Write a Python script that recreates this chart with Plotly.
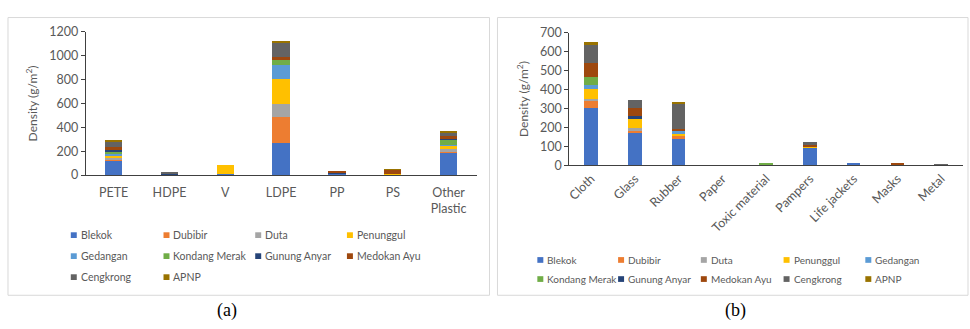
import plotly.graph_objects as go

sites = ["Blekok", "Dubibir", "Duta", "Penunggul", "Gedangan", "Kondang Merak",
         "Gunung Anyar", "Medokan Ayu", "Cengkrong", "APNP"]
colors = ["#4472C4", "#ED7D31", "#A5A5A5", "#FFC000", "#5B9BD5", "#70AD47",
          "#264478", "#9E480E", "#636363", "#997300"]

# (a) plastic types
plastic_cats = ["PETE", "HDPE", "V", "LDPE", "PP", "PS", "Other<br>Plastic"]
plastic_vals = {
    "Blekok":        [120, 8, 10, 272, 15, 0, 190],
    "Dubibir":       [15, 0, 0, 216, 0, 0, 5],
    "Duta":          [10, 0, 0, 105, 0, 0, 24],
    "Penunggul":     [20, 0, 75, 211, 0, 12, 31],
    "Gedangan":      [8, 0, 0, 119, 0, 0, 3],
    "Kondang Merak": [25, 0, 0, 47, 0, 0, 50],
    "Gunung Anyar":  [12, 5, 0, 3, 5, 0, 2],
    "Medokan Ayu":   [25, 0, 0, 16, 15, 33, 19],
    "Cengkrong":     [50, 7, 0, 126, 0, 0, 31],
    "APNP":          [5, 0, 0, 8, 0, 5, 8],
}

# (b) other waste types
other_cats = ["Cloth", "Glass", "Rubber", "Paper", "Toxic material", "Pampers",
              "Life jackets", "Masks", "Metal"]
other_vals = {
    "Blekok":        [305, 176, 141, 0, 0, 95, 14, 0, 0],
    "Dubibir":       [37, 5, 16, 0, 0, 0, 0, 10, 0],
    "Duta":          [10, 18, 0, 0, 0, 0, 0, 0, 0],
    "Penunggul":     [50, 47, 15, 0, 0, 10, 0, 0, 0],
    "Gedangan":      [20, 0, 7, 0, 0, 0, 0, 0, 0],
    "Kondang Merak": [42, 0, 0, 5, 15, 0, 0, 0, 0],
    "Gunung Anyar":  [0, 14, 0, 0, 0, 0, 0, 0, 0],
    "Medokan Ayu":   [77, 40, 12, 0, 0, 3, 0, 4, 0],
    "Cengkrong":     [101, 43, 137, 0, 0, 17, 0, 0, 8],
    "APNP":          [8, 0, 5, 0, 0, 0, 0, 0, 0],
}

W, H = 970, 329
def px(x): return x / W
def py(y): return 1 - y / H

font_fam = "Lato, 'Open Sans', sans-serif"
txt = "#595959"

fig = go.Figure()

# legend grid positions (swatch centre, px)
left_cols, left_rows = [71, 164, 256, 348], [238, 260, 282]
right_cols, right_rows = [539, 620, 703, 786, 868], [264, 284]

for panel, (cats, vals, cols, rows, xa, ya, fs) in enumerate([
        (plastic_cats, plastic_vals, left_cols, left_rows, "x", "y", 10.5),
        (other_cats, other_vals, right_cols, right_rows, "x2", "y2", 10)]):
    for i, (s, c) in enumerate(zip(sites, colors)):
        fig.add_trace(go.Bar(
            x=cats, y=vals[s], name=s, marker_color=c, marker_line_width=0,
            xaxis=xa, yaxis=ya, showlegend=False))
        # legend entry: small square swatch + series name
        cx, cy = cols[i % len(cols)], rows[i // len(cols)]
        fig.add_shape(type="rect", xref="paper", yref="paper",
                      x0=px(cx - 3), x1=px(cx + 3), y0=py(cy + 3), y1=py(cy - 3),
                      line_width=0, fillcolor=c)
        fig.add_annotation(text=s, xref="paper", yref="paper",
                           x=px(cx + 5), y=py(cy), xanchor="left", yanchor="middle",
                           showarrow=False,
                           font=dict(family=font_fam, size=fs, color=txt))

axis_common = dict(showgrid=False, zeroline=False, showline=True,
                   linecolor="#404040", linewidth=1.2,
                   tickfont=dict(family=font_fam, size=12.5, color=txt))

layout = dict(
    width=W, height=H, margin=dict(l=0, r=0, t=0, b=0),
    paper_bgcolor="white", plot_bgcolor="white", barmode="stack",
    showlegend=False,
    xaxis=dict(domain=[px(83), px(475)], anchor="y", ticks="",
               ticklabelstandoff=6, **axis_common),
    yaxis=dict(domain=[py(175), py(25)], anchor="x", range=[0, 1200],
               dtick=200, ticks="outside", ticklen=4, tickcolor="#404040",
               title=dict(text="Density (g/m<sup>2</sup>)",
                          font=dict(family=font_fam, size=12, color=txt), standoff=8),
               **axis_common),
    xaxis2=dict(domain=[px(568), px(963)], anchor="y2", ticks="", tickangle=-45,
                **axis_common),
    yaxis2=dict(domain=[py(165), py(25.7)], anchor="x2", range=[0, 700],
                dtick=100, ticks="outside", ticklen=4, tickcolor="#404040",
                title=dict(text="Density (g/m<sup>2</sup>)",
                           font=dict(family=font_fam, size=12, color=txt), standoff=8),
                **axis_common),
    bargap=0.69,
)
fig.update_layout(**layout)

# panel borders
for x0, x1 in [(5, 488), (496, 968)]:
    fig.add_shape(type="rect", xref="paper", yref="paper",
                  x0=px(x0), x1=px(x1), y0=py(301), y1=py(10),
                  line=dict(color="#d9d9d9", width=1), fillcolor="rgba(0,0,0,0)")

for lab, xx in [("(a)", 225), ("(b)", 735)]:
    fig.add_annotation(text=lab, xref="paper", yref="paper", x=px(xx), y=py(317),
                       showarrow=False, xanchor="center", yanchor="middle",
                       font=dict(family="Liberation Serif, serif", size=18, color="black"))

fig.write_html("out.html")
